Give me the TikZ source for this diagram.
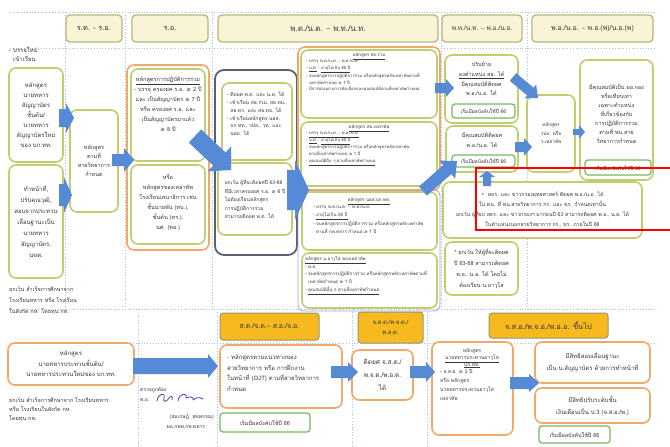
\documentclass[tikz,border=0pt]{standalone}
\usepackage{fontspec}
\setmainfont[Script=Thai]{Loma}
\newfontfamily\dv{DejaVu Sans}
\usetikzlibrary{calc}

\definecolor{ink}{RGB}{55,55,55}
\definecolor{oliveln}{RGB}{196,205,110}
\definecolor{orangeln}{RGB}{242,168,105}
\definecolor{greenln}{RGB}{118,184,96}
\definecolor{hdrfill}{RGB}{248,245,214}
\definecolor{hdrline}{RGB}{186,182,122}
\definecolor{goldfill}{RGB}{246,186,32}
\definecolor{goldline}{RGB}{150,150,112}
\definecolor{slateln}{RGB}{92,96,112}
\definecolor{lavln}{RGB}{170,160,225}
\definecolor{arrowblue}{RGB}{86,138,214}
\definecolor{guidec}{RGB}{168,192,232}
\definecolor{sigblue}{RGB}{60,70,200}

\newcommand\gtq{{\dv ≥}}
\newcommand\dsh{{\dv –}}
\newcommand\fz[2]{\fontsize{#1}{#2}\selectfont}

% block arrow: tail, tip, shaft half-width, head half-width, head length
\newcommand\blockarrow[5]{%
  \coordinate (ba-t) at #1;
  \coordinate (ba-p) at #2;
  \coordinate (ba-h) at ($(ba-p)!#5pt!(ba-t)$);
  \fill[arrowblue] ($(ba-t)!#3pt!90:(ba-p)$) -- ($(ba-h)!#3pt!90:(ba-p)$)
    -- ($(ba-h)!#4pt!90:(ba-p)$) -- (ba-p) -- ($(ba-h)!#4pt!-90:(ba-p)$)
    -- ($(ba-h)!#3pt!-90:(ba-p)$) -- ($(ba-t)!#3pt!-90:(ba-p)$) -- cycle;}

\tikzset{
  guide/.style={draw=guidec, line width=0.8pt, dotted},
  hdr/.style={fill=hdrfill, draw=hdrline, line width=1.3pt, rounded corners=4pt},
  ghdr/.style={fill=goldfill, draw=goldline, line width=1pt, rounded corners=3pt},
  obox/.style={draw=oliveln, line width=1.6pt, rounded corners=7pt, fill=white},
  orbox/.style={draw=orangeln, line width=1.6pt, rounded corners=7pt, fill=white},
  dkbox/.style={draw=slateln, line width=1.8pt, rounded corners=9pt, fill=white},
  lavbox/.style={draw=lavln, line width=0.8pt, rounded corners=6pt},
  gbox/.style={draw=greenln, line width=1.2pt, rounded corners=3pt, fill=white},
  redmark/.style={draw=red, line width=2.4pt},
}

\begin{document}
\begin{tikzpicture}[x=1pt,y=-1pt, every node/.style={text=ink, inner sep=0pt}]
\useasboundingbox (0,0) rectangle (670,447);
\fill[white] (0,0) rectangle (670,447);

% dotted guide lines
\foreach \yy in {12,48,309,343} \draw[guide] (10,\yy) -- (656,\yy);
\foreach \xx in {65,125,212,441,527} \draw[guide] (\xx,12) -- (\xx,309);
\foreach \xx in {138,217,352,427} \draw[guide] (\xx,309) -- (\xx,447);

% rank headers (officers)
\node[hdr, minimum width=56, minimum height=27, font=\fz{7.5}{9}] (h1) at (94,28.5) {ร.ต. - ร.อ.};
\node[hdr, minimum width=76, minimum height=27, font=\fz{7.5}{9}] (h2) at (170,28.5) {ร.อ.};
\node[hdr, minimum width=220, minimum height=27, font=\fz{8}{9}] (h3) at (328,28.5) {พ.ต./น.ต. \dsh{} พ.ท./น.ท.};
\node[hdr, minimum width=80, minimum height=27, font=\fz{6.5}{9}] (h4) at (482,28.5) {พ.ท./น.ท. \dsh{} พ.อ./น.อ.};
\node[hdr, minimum width=121, minimum height=27, font=\fz{7}{9}] (h5) at (592.5,28.5) {พ.อ./น.อ. \dsh{} พ.อ.(พ)/น.อ.(พ)};

% entry
\node[anchor=north west, align=left, font=\fz{6}{9}] (newin) at (9,47) {- บรรจุใหม่\\\ \ เข้าเรียน};
\node[obox, minimum width=54, minimum height=94, align=center, font=\fz{6}{10}] (b1) at (36,115)
  {หลักสูตร\\นายทหาร\\สัญญาบัตร\\ชั้นต้น/\\นายทหาร\\สัญญาบัตรใหม่\\ของ บก.ทท.};
\node[obox, minimum width=54, minimum height=113, align=center, font=\fz{6}{11}] (b2) at (36,221.5)
  {ทำหน้าที่,\\ปรับคุณวุฒิ,\\สอบจากประทวน\\เลื่อนฐานะเป็น\\นายทหาร\\สัญญาบัตร,\\นขต.};
\node[obox, minimum width=48, minimum height=102] (b3) at (94,161) {};
\node[align=center, font=\fz{5.5}{9}] (b3t) at (94,161) {หลักสูตร\\ตามที่\\สายวิทยาการ\\กำหนด};

% captain column
\node[orbox, minimum width=82, minimum height=185] (ro) at (168,157.5) {};
\node[obox, minimum width=74, minimum height=92] (ro1) at (168,115) {};
\node[align=center, font=\fz{5.6}{10}] (ro1t) at (168,104)
  {\underline{หลักสูตรการปฏิบัติการร่วม}\\- บรรจุ ครองยศ ร.อ. \gtq{} 2 ปี\\และ เป็นสัญญาบัตร \gtq{} 7 ปี\\หรือ ครองยศ ร.อ. และ\\เป็นสัญญาบัตรมาแล้ว\\\gtq{} 8 ปี};
\node[obox, minimum width=74, minimum height=79] (ro2) at (168,204.5) {};
\node[align=center, font=\fz{5.6}{10}] (ro2t) at (168,203)
  {หรือ\\หลักสูตรของเหล่าทัพ\\โรงเรียนเสนาธิการ เช่น\\ชั้นนายพัน (ทบ.),\\ชั้นต้น (ทร.),\\นศ. (ทอ.)};

% promotion to major
\node[dkbox, minimum width=82, minimum height=185] (dk) at (256,162.5) {};
\node[obox, minimum width=70, minimum height=77] (dk1) at (257,121.5) {};
\node[align=left, font=\fz{5}{7.8}] (dk1t) at (257,114)
  {- ติดยศ พ.ต. และ น.ต. ได้\\- เข้าเรียน สธ.ร่วม, สธ.ทบ.,\\\ \ สธ.ทร. และ สธ.ทอ. ได้\\- เข้าเรียนหลักสูตร นธส.\\\ \ บก.ทท., วปอ., วท. และ\\\ \ นธย. ได้};
\node[obox, minimum width=74, minimum height=72] (dk2) at (255,199) {};
\node[align=left, font=\fz{5}{8.5}] (dk2t) at (255,199)
  {ยกเว้น ผู้ที่จะติดยศปี 63-68\\ที่มีเวลาครองยศ ร.อ. \gtq{} 6 ปี\\ไม่ต้องเรียนหลักสูตร\\การปฏิบัติการร่วม\\สามารถติดยศ พ.ต. ได้};

% staff courses
\node[orbox, minimum width=142, minimum height=143] (st) at (369,118.5) {};
\node[lavbox, minimum width=142, minimum height=121] (sl) at (369,250.5) {};
\node[obox, minimum width=136, minimum height=68] (s1) at (369,84) {};
\node[font=\fz{4.5}{6}] (s1h) at (369,56) {\underline{หลักสูตร สธ.ร่วม}};
\node[anchor=north west, align=left, font=\fz{4.2}{6.6}] (s1t) at (306,59.5)
  {- บรรจุ พ.ต./น.ต. - พ.ท./น.ท.\\- \underline{น.ศ.} - \underline{อายุไม่เกิน 45 ปี}\\- จบหลักสูตรการปฏิบัติการร่วม หรือหลักสูตรหลักเหล่าทัพตามที่\\\ \ เหล่าทัพกำหนด \gtq{} 1 ปี\\- มีการสอบผ่านการคัดเลือกและคุณสมบัติตามที่เหล่าทัพกำหนด};
\node[obox, minimum width=136, minimum height=64] (s2) at (369,154) {};
\node[font=\fz{4.5}{6}] (s2h) at (369,128) {\underline{หลักสูตร สธ.เหล่าทัพ}};
\node[anchor=north west, align=left, font=\fz{4.2}{7}] (s2t) at (306,131.5)
  {- \underline{บรรจุ พ.ต./น.ต. - พ.ท./น.ท.}\\- \underline{น.ศ.} - \underline{อายุไม่เกิน 45 ปี}\\- จบหลักสูตรการปฏิบัติการร่วม หรือหลักสูตรหลักเหล่าทัพ\\\ \ ตามที่เหล่าทัพกำหนด \gtq{} 1 ปี\\- \underline{คุณสมบัติอื่น ๆ ตามที่เหล่าทัพกำหนด}};
\node[obox, minimum width=135, minimum height=58] (s3) at (369.5,221) {};
\node[font=\fz{4.6}{6}] (s3h) at (369,201) {\underline{หลักสูตร นธส.บก.ทท.}};
\node[anchor=north west, align=left, font=\fz{4.5}{8.3}] (s3t) at (313,205)
  {- บรรจุ พ.ต./น.ต. \dsh{} พ.ท./น.ท.\\- \underline{อายุไม่เกิน 56 ปี}\\- จบหลักสูตรการปฏิบัติการร่วม หรือหลักสูตรหลักเหล่าทัพ\\\ \ ตามที่ กพ.ทหาร กำหนด \gtq{} 1 ปี};
\node[obox, minimum width=135, minimum height=55] (s4) at (369.5,280.5) {};
\node[anchor=north west, align=left, font=\fz{4.5}{7.8}] (s4t) at (305,256)
  {\underline{หลักสูตร น.อาวุโส ของเหล่าทัพ}\\- พ.ท.\\- จบหลักสูตรการปฏิบัติการร่วม หรือหลักสูตรหลักเหล่าทัพตามที่\\\ \ เหล่าทัพกำหนด \gtq{} 1 ปี\\- \underline{คุณสมบัติอื่น ๆ ตามที่เหล่าทัพกำหนด}};

% lieutenant colonel column
\node[obox, minimum width=73, minimum height=68] (la) at (481.5,89) {};
\node[align=center, font=\fz{5.5}{9.7}] (lat) at (481.5,79)
  {ปรับย้าย\\\underline{ลงตำแหน่ง สธ. ได้}\\มีคุณสมบัติติดยศ\\พ.อ./น.อ. ได้};
\node[gbox, minimum width=63, minimum height=14, font=\fz{5}{6}] (lag) at (483.5,111) {เริ่มมีผลบังคับใช้ปี 66};
\node[obox, minimum width=72, minimum height=46] (lb) at (482,149) {};
\node[align=center, font=\fz{5.5}{9.5}] (lbt) at (482,140) {มีคุณสมบัติติดยศ\\พ.อ./น.อ. ได้};
\node[gbox, minimum width=63, minimum height=12, font=\fz{5}{6}] (lbg) at (483.5,161) {เริ่มมีผลบังคับใช้ปี 66};
\node[obox, minimum width=199, minimum height=56, align=center, font=\fz{5.2}{10}] (ld) at (542.5,210)
  {{\dv •}\ \ สธร. และ ข่าวกรองยุทธศาสตร์ ติดยศ พ.อ./น.อ. ได้\\ใน ตน. ที่ พน.สายวิทยาการ กร. และ ขร. กำหนดเท่านั้น\\ยกเว้น ผู้ที่จบ สธร. และ ข่าวกรองฯ มาก่อนปี 63 สามารถติดยศ พ.อ., น.อ. ได้\\ในตำแหน่งนอกสายวิทยาการ กร., ขร. ภายในปี 66};
\node[obox, minimum width=73, minimum height=53, align=center, font=\fz{5.5}{11}] (le) at (481.5,268.5)
  {* ยกเว้น ให้ผู้ที่จะติดยศ\\ปี 63-68 สามารถติดยศ\\พ.อ., น.อ. ได้ โดยไม่\\ต้องเรียน น.อาวุโส};

% colonel column
\node[obox, minimum width=48, minimum height=77, align=center, font=\fz{4.8}{8.5}] (lc) at (551,133.5)
  {หลักสูตร\\วปอ. หรือ\\ว.เหล่าทัพ};
\node[obox, minimum width=73, minimum height=120] (lf) at (616.5,120) {};
\node[align=center, font=\fz{5.5}{9}] (lft) at (616.5,114)
  {มีคุณสมบัติเป็น ผอ.กอง\\หรือเทียบเท่า\\เฉพาะตำแหน่ง\\ที่เกี่ยวข้องกับ\\การปฏิบัติการร่วม\\ตามที่ พน.สาย\\วิทยาการกำหนด};
\node[gbox, minimum width=66, minimum height=15, font=\fz{5}{6}] (lfg) at (618,167.5) {เริ่มมีผลบังคับใช้ปี 66};

\node[anchor=north west, align=left, font=\fz{5.5}{11}] (exc1) at (9,286)
  {ยกเว้น สำเร็จการศึกษาจาก\\โรงเรียนทหาร หรือ โรงเรียน\\ในสังกัด กห. โดยทุน กห.};

% rank headers (non-commissioned officers)
\node[ghdr, minimum width=99, minimum height=27, font=\fz{7}{9}] (g1) at (269.5,326.5) {ส.ต./จ.ต.\dsh{} ส.อ./จ.อ.};
\node[ghdr, minimum width=65, minimum height=31, align=center, font=\fz{6}{10}] (g2) at (390.5,327.5) {จ.ส.ต./พ.จ.ต./\\พ.อ.ต.};
\node[ghdr, minimum width=119, minimum height=25, font=\fz{7.5}{9}] (g3) at (548.5,325.5) {จ.ส.อ./พ.จ.อ./พ.อ.อ. ขึ้นไป};

% NCO path
\node[orbox, minimum width=126, minimum height=42, align=center, font=\fz{6}{10.5}] (n1) at (71,364)
  {หลักสูตร\\นายทหารประทวนชั้นต้น/\\นายทหารประทวนใหม่ของ บก.ทท.};
\node[anchor=north west, align=left, font=\fz{5.5}{9}] (exc2) at (9,397)
  {ยกเว้น สำเร็จการศึกษาจาก โรงเรียนทหาร\\หรือ โรงเรียนในสังกัด กห.\\โดยทุน กห.};
\node[orbox, minimum width=122, minimum height=63] (n2) at (281,376.5) {};
\node[anchor=west, align=left, font=\fz{6}{10.5}] (n2t) at (227,373)
  {- หลักสูตรตามแนวทางของ\\สายวิทยาการ หรือ การฝึกงาน\\ในหน้าที่ (OJT) ตามที่สายวิทยาการ\\กำหนด};
\node[gbox, minimum width=90, minimum height=19, font=\fz{5.5}{6}] (n2g) at (265,422.5) {เริ่มมีผลบังคับใช้ปี 66};
\node[orbox, minimum width=61, minimum height=50, align=center, font=\fz{6.5}{13}] (n3) at (382.5,375)
  {ติดยศ จ.ส.ต./\\พ.จ.ต./พ.อ.ต.\\ได้};
\node[orbox, minimum width=81, minimum height=93] (n4) at (472.5,388.5) {};
\node[align=center, font=\fz{5}{7}] (n4h) at (472,358) {หลักสูตร\\\underline{นายทหารประทวนอาวุโส}\\\underline{บก.ทท.}};
\node[anchor=north west, align=left, font=\fz{5}{9}] (n4t) at (440,369.5)
  {- จ.ส.อ. \gtq{} 2 ปี\\หรือ หลักสูตร\\นายทหารประทวนอาวุโส\\เหล่าทัพ};
\node[orbox, minimum width=115, minimum height=41, align=center, font=\fz{6}{12}] (n5) at (592.5,362.5)
  {มีสิทธิสอบเลื่อนฐานะ\\เป็น น.สัญญาบัตร ด้วยการทำหน้าที่};
\node[orbox, minimum width=115, minimum height=35, align=center, font=\fz{6}{12}] (n6) at (592.5,405.5)
  {มีสิทธิปรับระดับชั้น\\เงินเดือนเป็น ป.3 (จ.ส.อ./พ.)};
\node[gbox, minimum width=71, minimum height=17, font=\fz{5.5}{6}] (n6g) at (574.5,434.5) {เริ่มมีผลบังคับใช้ปี 66};

% sign-off
\node[anchor=base west, font=\fz{5}{6}] (chk) at (140,391) {ตรวจถูกต้อง};
\node[anchor=base west, font=\fz{5}{6}] (rank) at (140,401) {พ.อ.};
\draw[sigblue, line width=0.8pt, line cap=round, line join=round]
  (157,401) .. controls (158,393) and (166,392) .. (164,398)
  .. controls (162,403) and (167,402) .. (170,397)
  .. controls (171,395) and (173,396) .. (172,400);
\draw[sigblue, line width=0.8pt, line cap=round, line join=round]
  (178,401) .. controls (179,393) and (188,392) .. (186,398)
  .. controls (190,396) and (194,397) .. (193,400)
  .. controls (196,397) and (200,397) .. (203,399);
\node[anchor=base east, font=\fz{5}{6}] (sname) at (214,418) {(สมเกษฎ์\ \ สุขพรรณ)};
\node[anchor=base, font=\fz{5}{6}] (spos) at (186,428) {ผอ.กพพ.กพ.ทหาร};

% flow arrows
\coordinate (p1a) at (59,118);  \coordinate (p1b) at (74,118);
\coordinate (p2a) at (59,195);  \coordinate (p2b) at (72,195);
\coordinate (p3a) at (112,160); \coordinate (p3b) at (134,160);
\coordinate (p4a) at (195,136); \coordinate (p4b) at (231,170);
\coordinate (p5a) at (287,190); \coordinate (p5b) at (309,190);
\coordinate (p6a) at (435,88);  \coordinate (p6b) at (454,88);
\coordinate (p7a) at (423,191); \coordinate (p7b) at (457,161);
\coordinate (p8a) at (513,77);  \coordinate (p8b) at (538,98);
\coordinate (p9a) at (515,147); \coordinate (p9b) at (532,147);
\coordinate (p10a) at (487,186); \coordinate (p10b) at (487,171);
\coordinate (p11a) at (573,132); \coordinate (p11b) at (585,132);
\coordinate (q1a) at (133,366); \coordinate (q1b) at (218,366);
\coordinate (q2a) at (331,372); \coordinate (q2b) at (358,372);
\coordinate (q3a) at (410,372); \coordinate (q3b) at (435,372);
\coordinate (q4a) at (510,383); \coordinate (q4b) at (539,383);
\blockarrow{(p1a)}{(p1b)}{9}{15}{8}
\blockarrow{(p2a)}{(p2b)}{11}{18}{8}
\blockarrow{(p3a)}{(p3b)}{6}{12}{10}
\blockarrow{(p4a)}{(p4b)}{9}{17}{16}
\blockarrow{(p5a)}{(p5b)}{20}{30}{14}
\blockarrow{(p6a)}{(p6b)}{5}{9}{8}
\blockarrow{(p7a)}{(p7b)}{6}{12}{13}
\blockarrow{(p8a)}{(p8b)}{5}{9}{10}
\blockarrow{(p9a)}{(p9b)}{5}{9}{8}
\blockarrow{(p10a)}{(p10b)}{4}{8}{6}
\blockarrow{(p11a)}{(p11b)}{3}{7}{6}
\blockarrow{(q1a)}{(q1b)}{8}{12}{10}
\blockarrow{(q2a)}{(q2b)}{6}{10}{10}
\blockarrow{(q3a)}{(q3b)}{6}{10}{9}
\blockarrow{(q4a)}{(q4b)}{6}{9}{10}

% highlight frame
\draw[redmark] (670,168) -- (476,168) -- (476,230) -- (670,230);
\end{tikzpicture}
\end{document}
